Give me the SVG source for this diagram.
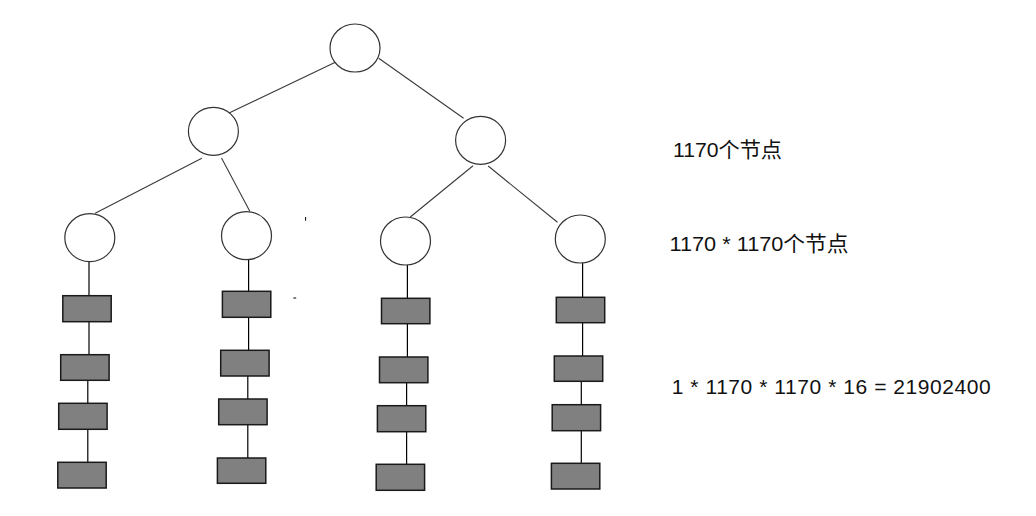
<svg xmlns="http://www.w3.org/2000/svg" width="1036" height="516" viewBox="0 0 1036 516">
<style>
.c{fill:#fff;stroke:#333;stroke-width:1.2}
.r{fill:#808080;stroke:#1a1a1a;stroke-width:1.5}
.e{stroke:#3a3a3a;stroke-width:1.1;fill:none}
.v{stroke:#000;stroke-width:1.2;fill:none}
.t{font-family:"Liberation Sans","Noto Sans CJK SC",sans-serif;font-size:21px;fill:#111}
</style>
<rect width="1036" height="516" fill="#fff"/>
<g id="connectors">
<line class="e" x1="338.5" y1="60.7" x2="228.5" y2="113.3"/>
<line class="e" x1="378.7" y1="58.3" x2="463.6" y2="118.3"/>
<line class="e" x1="201.8" y1="158.3" x2="95.2" y2="213.3"/>
<line class="e" x1="221.5" y1="158" x2="249.8" y2="211.3"/>
<line class="e" x1="473" y1="165.7" x2="410.3" y2="217"/>
<line class="e" x1="488.2" y1="166" x2="557.5" y2="222.3"/>
<line class="v" x1="89" y1="262" x2="89" y2="295.7"/>
<line class="v" x1="89" y1="320.7" x2="89" y2="357.7"/>
<line class="v" x1="87.8" y1="377.7" x2="87.8" y2="403.3"/>
<line class="v" x1="87.8" y1="429.3" x2="87.8" y2="470.3"/>
<line class="v" x1="248.6" y1="260" x2="248.6" y2="291.3"/>
<line class="v" x1="248.6" y1="315.3" x2="248.6" y2="352.7"/>
<line class="v" x1="247.8" y1="373.3" x2="247.8" y2="399"/>
<line class="v" x1="247.8" y1="424.7" x2="247.8" y2="466"/>
<line class="v" x1="407.4" y1="265" x2="407.4" y2="298.3"/>
<line class="v" x1="407.4" y1="322.3" x2="407.4" y2="359.3"/>
<line class="v" x1="406.6" y1="380" x2="406.6" y2="405.7"/>
<line class="v" x1="406.6" y1="431.7" x2="406.6" y2="472.7"/>
<line class="v" x1="582.6" y1="263" x2="582.6" y2="297.3"/>
<line class="v" x1="582.6" y1="321.3" x2="582.6" y2="358.7"/>
<line class="v" x1="581.3" y1="378.7" x2="581.3" y2="404.7"/>
<line class="v" x1="581.3" y1="430.7" x2="581.3" y2="471.7"/>
</g>
<g id="root"><ellipse class="c" cx="355" cy="48" rx="25" ry="24"/></g>
<g id="mid-left"><ellipse class="c" cx="213.4" cy="131.3" rx="25" ry="24"/></g>
<g id="mid-right"><ellipse class="c" cx="480.6" cy="140.3" rx="25" ry="24"/></g>
<g id="leaf1"><ellipse class="c" cx="89.8" cy="237.7" rx="25" ry="24"/></g>
<g id="leaf2"><ellipse class="c" cx="246.5" cy="235.7" rx="25" ry="24"/></g>
<g id="leaf3"><ellipse class="c" cx="405.5" cy="241" rx="25" ry="24"/></g>
<g id="leaf4"><ellipse class="c" cx="580.3" cy="239" rx="25" ry="24"/></g>
<g id="col1">
<rect class="r" x="62.8" y="295.7" width="48.4" height="26"/>
<rect class="r" x="60.7" y="354.7" width="48.4" height="25.6"/>
<rect class="r" x="58.7" y="403.3" width="48.4" height="26"/>
<rect class="r" x="57.8" y="462.3" width="48.4" height="25.7"/>
</g>
<g id="col2">
<rect class="r" x="222.4" y="291.3" width="48.4" height="26"/>
<rect class="r" x="220.7" y="350.3" width="48.4" height="25.7"/>
<rect class="r" x="218.7" y="399" width="48.4" height="25.7"/>
<rect class="r" x="217.4" y="458" width="48.4" height="25.3"/>
</g>
<g id="col3">
<rect class="r" x="381.5" y="298.3" width="48.4" height="25.4"/>
<rect class="r" x="379.5" y="357" width="48.4" height="25.7"/>
<rect class="r" x="377.4" y="405.7" width="48.4" height="26"/>
<rect class="r" x="376.2" y="464.3" width="48.4" height="26"/>
</g>
<g id="col4">
<rect class="r" x="556.3" y="297.3" width="48.4" height="25.4"/>
<rect class="r" x="554.3" y="356" width="48.4" height="25.3"/>
<rect class="r" x="552.2" y="404.7" width="48.4" height="26"/>
<rect class="r" x="551.4" y="463.3" width="48.4" height="25.7"/>
</g>
<g id="marks">
<line x1="305.6" y1="217" x2="305.6" y2="220.7" stroke="#000" stroke-width="1"/>
<line x1="293.3" y1="298" x2="296.2" y2="298" stroke="#000" stroke-width="1"/>
</g>
<g id="labels">
<text class="t" x="673" y="157.3" textLength="109" lengthAdjust="spacingAndGlyphs">1170个节点</text>
<text class="t" x="669.5" y="251.3" textLength="179" lengthAdjust="spacingAndGlyphs">1170 * 1170个节点</text>
<text class="t" x="671.7" y="394" textLength="319" lengthAdjust="spacing">1 * 1170 * 1170 * 16 = 21902400</text>
</g>
</svg>
